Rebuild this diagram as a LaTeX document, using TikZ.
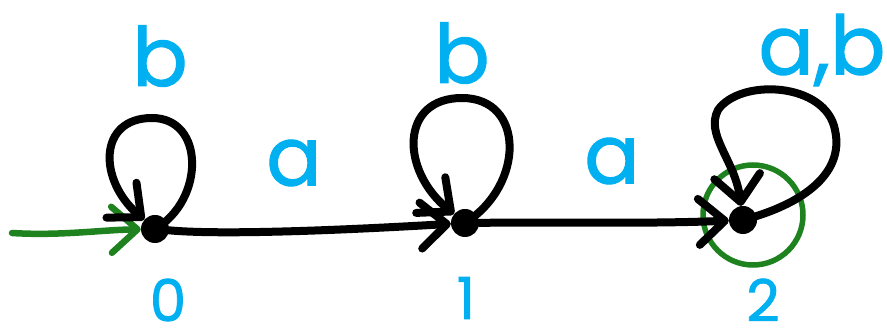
\documentclass[tikz,border=0pt]{standalone}
\usepackage{fontspec}
\setmainfont{Poppins}
\newfontfamily\hand{Poppins}[FakeBold=1.2]
\usetikzlibrary{arrows.meta}
\definecolor{lab}{RGB}{0,176,240}
\definecolor{acc}{RGB}{30,130,30}
\tikzset{
  dot/.style={circle,fill=black,inner sep=0pt,minimum size=28pt},
  accring/.style={circle,draw=acc,line width=5.5pt,inner sep=0pt,minimum size=100pt},
  edge/.style={draw=black,line width=8pt,line cap=round,-{Straight Barb[length=26pt,width=46pt,line width=8pt,round]}},
  startedge/.style={draw=acc,line width=6.5pt,line cap=round,-{Straight Barb[length=26pt,width=46pt,line width=6.5pt,round]}},
  letter/.style={text=lab,font=\hand\fontsize{82}{82}\selectfont,inner sep=0pt},
  digit/.style={text=lab,font=\hand\fontsize{58}{58}\selectfont,inner sep=0pt,text depth=0pt}
}
\begin{document}
\begin{tikzpicture}[x=1pt,y=-1pt]
\useasboundingbox (0,0) rectangle (887,336);
\node[dot] (q0) at (155,229) {};
\node[dot] (q1) at (465,223) {};
\node[dot] (q2) at (743,220) {};
\node[accring] (r2) at (753,215) {};
\coordinate (s) at (12,233);
\draw[startedge] (s) .. controls (60,236) and (100,230) .. (q0);
\draw[edge] (q0) .. controls (230,236) and (380,228) .. (q1);
\draw[edge] (q1) .. controls (560,222) and (650,224) .. (q2);
\draw[edge] (q0.center) .. controls (205,200) and (205,118) .. (152,118) .. controls (98,118) and (98,180) .. (q0);
\draw[edge] (q1.center) .. controls (525,185) and (525,98) .. (462,98) .. controls (400,98) and (400,170) .. (q1);
\draw[edge] (q2.center) .. controls (800,205) and (845,175) .. (835,130) .. controls (826,82) and (740,78) .. (718,110) .. controls (705,135) and (735,160) .. (q2);
\node[letter] (l0) at (160,56) {b};
\node[letter] (l1) at (462,53) {b};
\node[letter] (l2) at (822,50) {a,b};
\node[letter] (e01) at (294,163) {a};
\node[letter] (e12) at (612,161) {a};
\node[digit] (n0) at (168,300) {0};
\node[digit] (n1) at (466,298) {1};
\node[digit] (n2) at (763,300) {2};
\end{tikzpicture}
\end{document}
